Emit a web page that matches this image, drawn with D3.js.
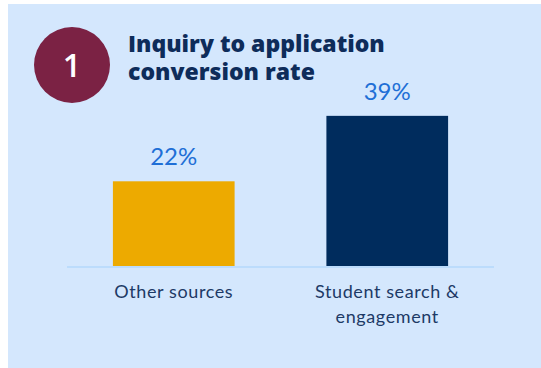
<!DOCTYPE html>
<html lang="en">
<head>
<meta charset="UTF-8">
<title>Inquiry to application conversion rate</title>
<script src="https://d3js.org/d3.v7.min.js"></script>
<style>
  body { margin: 0; background: #fff; }
  .title { font-family: "Open Sans", "Inter", sans-serif; font-weight: 800; fill: #0e2c5a; font-size: 23px; }
  .val { font-family: "Lato", "Open Sans", sans-serif; fill: #1f6fd6; font-size: 24px; }
  .cat { font-family: "Lato", "Open Sans", sans-serif; fill: #1d3a66; font-size: 18px; letter-spacing: 0.6px; }
</style>
</head>
<body>
<div id="chart"></div>
<script>
var titleLines = ["Inquiry to application", "conversion rate"];
var categories = [["Other sources"], ["Student search &", "engagement"]];
var values = [0.22, 0.39];
var barColors = ["#edaa00", "#002c5d"];

var width = 541, height = 368;

var svg = d3.select('#chart').append('svg')
    .attr('width', width)
    .attr('height', height);

// panel background
svg.append('rect')
    .attr('x', 8).attr('y', 4)
    .attr('width', width - 8).attr('height', height - 4)
    .attr('fill', '#d4e7fd');

// number badge
svg.append('circle')
    .attr('cx', 72).attr('cy', 65).attr('r', 38)
    .attr('fill', '#7b2244');
svg.append('text')
    .attr('x', 72).attr('y', 77)
    .attr('text-anchor', 'middle')
    .attr('fill', '#fff')
    .style('font-family', '"Open Sans", sans-serif')
    .style('font-weight', 600)
    .style('font-size', '32px')
    .text('1');

// title, one text per line
svg.selectAll('text.title')
    .data(titleLines)
    .enter().append('text')
    .attr('class', 'title')
    .attr('x', 128)
    .attr('y', function (d, i) { return 52 + i * 28; })
    .text(function (d) { return d; });

var x = d3.scaleBand()
    .domain(d3.range(values.length))
    .range([67, 494])
    .paddingInner(0.43)
    .paddingOuter(0.215);

var y = d3.scaleLinear()
    .domain([0, 0.4])
    .range([266, 112]);

svg.selectAll('rect.bar')
    .data(values)
    .enter().append('rect')
    .attr('class', 'bar')
    .attr('x', function (d, i) { return x(i); })
    .attr('y', function (d) { return y(d); })
    .attr('width', x.bandwidth())
    .attr('height', function (d) { return y(0) - y(d); })
    .attr('fill', function (d, i) { return barColors[i]; });

// baseline
svg.append('line')
    .attr('x1', 67).attr('x2', 494)
    .attr('y1', y(0) + 1).attr('y2', y(0) + 1)
    .attr('stroke', '#bcdcfc')
    .attr('stroke-width', 2);

// value labels
svg.selectAll('text.val')
    .data(values)
    .enter().append('text')
    .attr('class', 'val')
    .attr('x', function (d, i) { return x(i) + x.bandwidth() / 2; })
    .attr('y', function (d) { return y(d) - 16; })
    .attr('text-anchor', 'middle')
    .text(function (d) { return Math.round(d * 100) + '%'; });

// category labels
var cats = svg.selectAll('text.cat')
    .data(categories)
    .enter().append('text')
    .attr('class', 'cat')
    .attr('text-anchor', 'middle');
cats.each(function (lines, i) {
    var t = d3.select(this);
    lines.forEach(function (l, j) {
        t.append('tspan')
            .attr('x', x(i) + x.bandwidth() / 2)
            .attr('y', 298 + j * 25)
            .text(l);
    });
});
</script>
</body>
</html>
